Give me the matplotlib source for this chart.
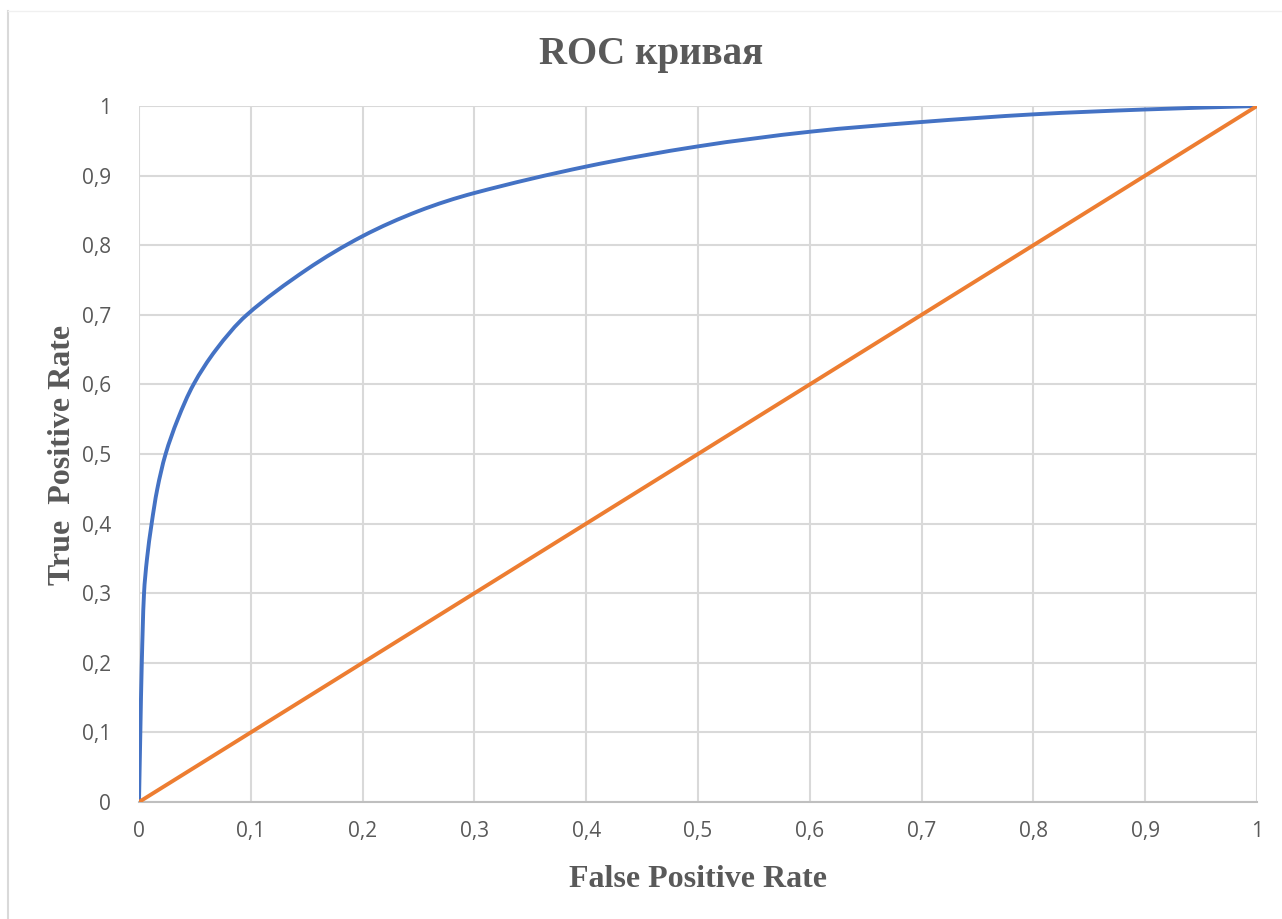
import numpy as np
import matplotlib
matplotlib.use("Agg")
import matplotlib.pyplot as plt
from matplotlib.lines import Line2D
from matplotlib.path import Path
from matplotlib.patches import PathPatch

# ROC curve points
fpr = [0, 0.0012, 0.0025, 0.0045, 0.0072, 0.0113, 0.0164, 0.0238, 0.0347, 0.0488,
       0.069, 0.0965, 0.15, 0.2, 0.25, 0.3, 0.4, 0.5, 0.6, 0.7, 0.8, 0.9, 1.0]
tpr = [0, 0.1, 0.2, 0.3, 0.35, 0.4, 0.45, 0.5, 0.55, 0.6,
       0.65, 0.7, 0.765, 0.813, 0.849, 0.875, 0.913, 0.942, 0.963, 0.977, 0.988, 0.995, 1.0]
diag = [0, 1]
ticks = [0, 0.1, 0.2, 0.3, 0.4, 0.5, 0.6, 0.7, 0.8, 0.9, 1]
tick_labels = ["0", "0,1", "0,2", "0,3", "0,4", "0,5", "0,6", "0,7", "0,8", "0,9", "1"]


def smooth_path(xs, ys, aspect=1.6):
    # smoothed line through the points: cubic Beziers with tangents scaled per segment
    p = np.column_stack([xs, ys]) * [aspect, 1.0]
    n = len(p)
    tang = []
    for i in range(n):
        d = p[min(i + 1, n - 1)] - p[max(i - 1, 0)]
        tang.append(d / np.hypot(*d))
    verts = [p[0]]
    codes = [Path.MOVETO]
    for i in range(n - 1):
        L = np.hypot(*(p[i + 1] - p[i])) / 3
        verts += [p[i] + tang[i] * L, p[i + 1] - tang[i + 1] * L, p[i + 1]]
        codes += [Path.CURVE4] * 3
    verts = np.array(verts) / [aspect, 1.0]
    return Path(verts, codes)


txt = "#595959"
W, H = 1282, 919
fig = plt.figure(figsize=(W / 100, H / 100), dpi=100)
ax = fig.add_axes([139 / W, 1 - 802 / H, (1257 - 139) / W, (802 - 106) / H])

ax.add_patch(PathPatch(smooth_path(fpr, tpr), fill=False, edgecolor="#4472C4",
                       lw=2.8, capstyle="round", joinstyle="round", zorder=3))
ax.plot(diag, diag, color="#ED7D31", lw=2.8, solid_capstyle="round", zorder=3)

ax.set_xlim(0, 1)
ax.set_ylim(0, 1)
ax.set_xticks(ticks)
ax.set_yticks(ticks)
ax.set_xticklabels(tick_labels)
ax.set_yticklabels(tick_labels)
ax.grid(True, color="#d9d9d9", lw=1.5)
ax.set_axisbelow(True)
for s in ["top", "right", "left"]:
    ax.spines[s].set_visible(False)
ax.spines["bottom"].set_color("#bfbfbf")
ax.spines["bottom"].set_linewidth(1.5)
ax.tick_params(length=0, labelsize=15, labelcolor=txt)
ax.tick_params(axis="y", pad=20)
ax.tick_params(axis="x", pad=14)
for lab in ax.get_xticklabels() + ax.get_yticklabels():
    lab.set_fontfamily("Open Sans")

serif = "Liberation Serif"
fig.text(651 / W, 1 - 64 / H, "ROC кривая", ha="center", va="baseline",
         fontsize=28, fontweight="bold", family=serif, color=txt)
fig.text(698 / W, 1 - 887 / H, "False Positive Rate", ha="center", va="baseline",
         fontsize=23, fontweight="bold", family=serif, color=txt)
fig.text(62 / W, 1 - 455 / H, "True  Positive Rate", ha="center", va="center",
         rotation=90, fontsize=23, fontweight="bold", family=serif, color=txt)

# thin chart-area border visible at the left and top of the screenshot
fig.add_artist(Line2D([8 / W, 8 / W], [0, 1 - 11 / H], color="#d9d9d9", lw=1.5))
fig.add_artist(Line2D([8 / W, 1], [1 - 11 / H, 1 - 11 / H], color="#f0f0f0", lw=1))

fig.savefig("out.png", dpi=100)
